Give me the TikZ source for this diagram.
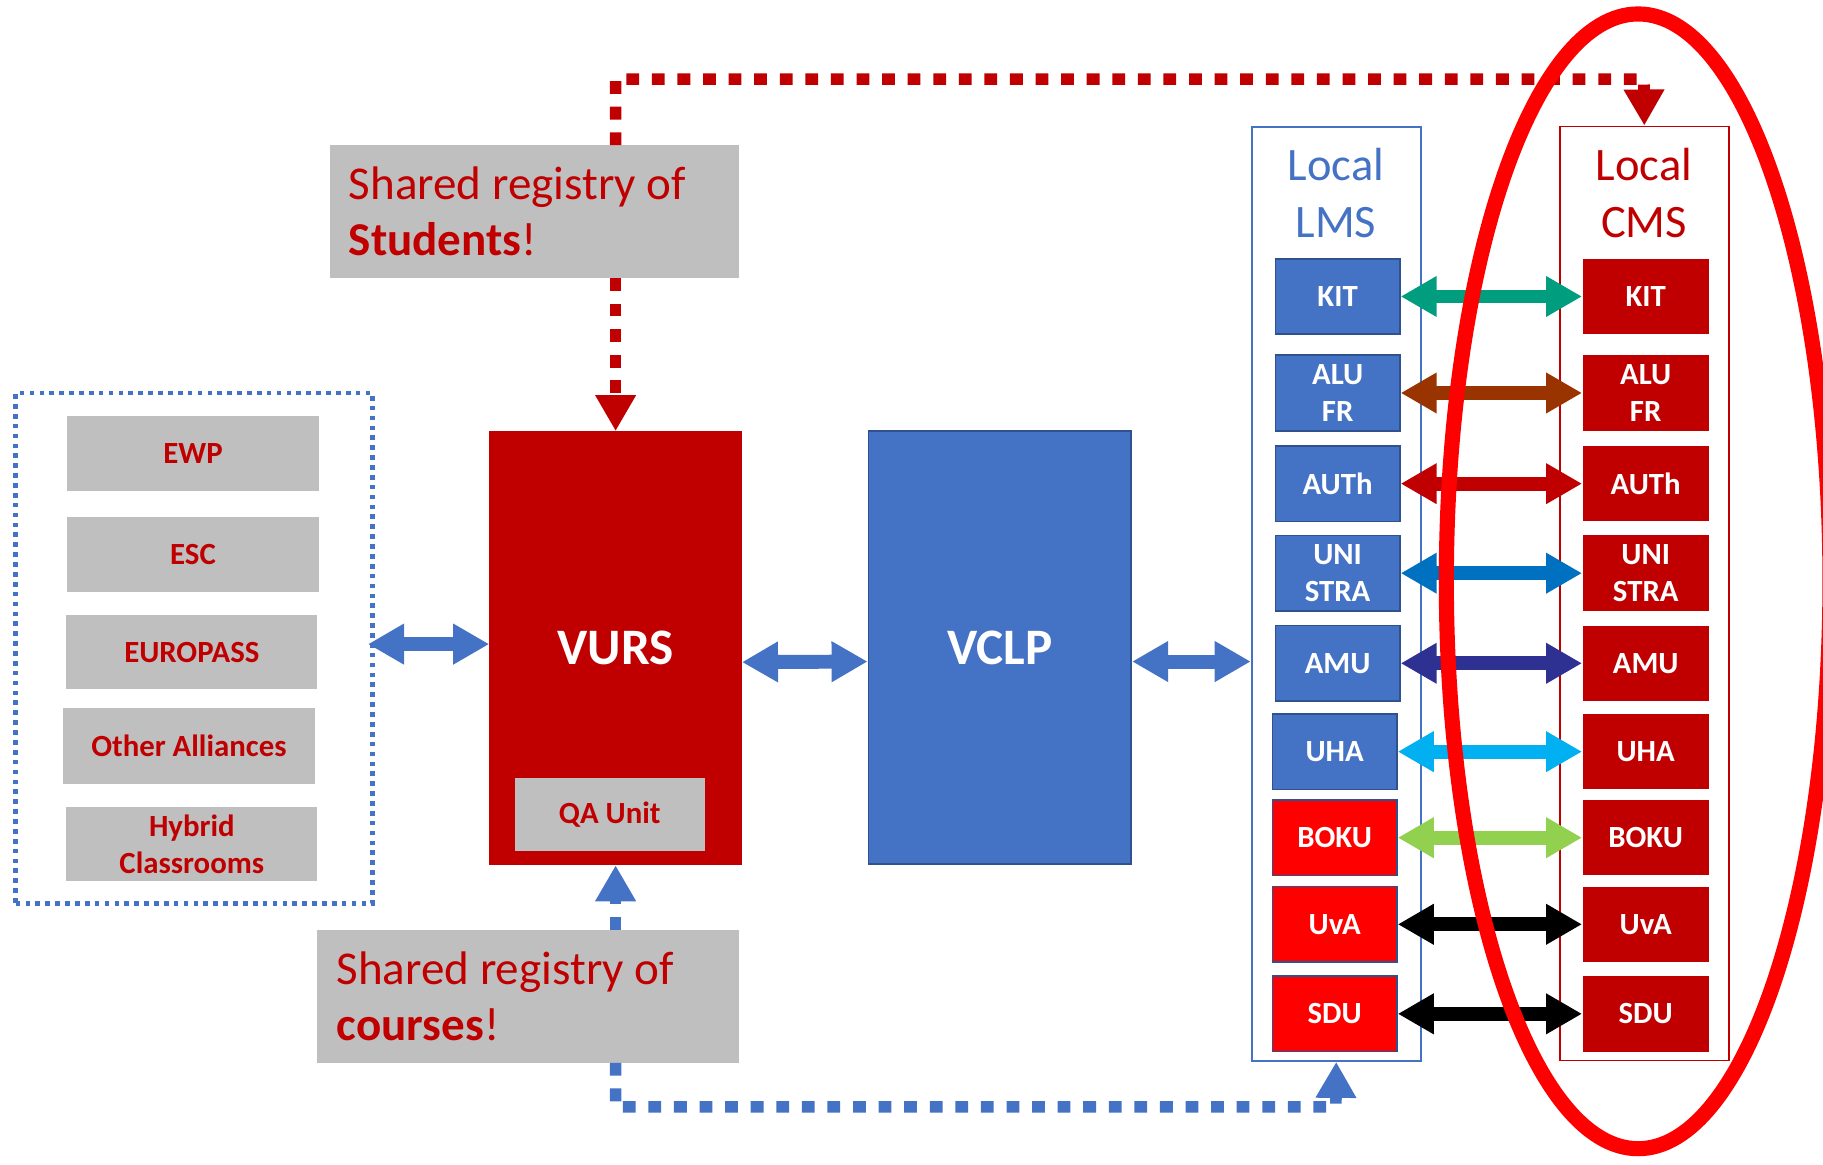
\documentclass[tikz,border=0pt]{standalone}
\usepackage{fontspec}
\setmainfont{Carlito}
\usetikzlibrary{arrows.meta}

\definecolor{darkred}{HTML}{C00000}
\definecolor{lightred}{HTML}{FF0000}
\definecolor{boxgray}{HTML}{BFBFBF}
\definecolor{midblue}{HTML}{4472C4}
\definecolor{edgeblue}{HTML}{2F528F}
\definecolor{kitcol}{HTML}{009E7E}
\definecolor{alucol}{HTML}{993300}
\definecolor{unicol}{HTML}{0070C0}
\definecolor{amucol}{HTML}{2E3192}
\definecolor{uhacol}{HTML}{00B0F0}
\definecolor{bokucol}{HTML}{92D050}

\tikzset{
	graybox/.style = {fill=boxgray, text=darkred, inner sep=0pt, align=center, font=\fontsize{26.5}{32}\selectfont\bfseries},
	regbox/.style = {fill=boxgray, text=darkred, inner ysep=0pt, align=flush left, font=\fontsize{40.5}{48.5}\selectfont},
	bigbox/.style = {inner sep=0pt, text=white, font=\fontsize{44}{50}\selectfont\bfseries},
	lmsitem/.style = {draw=edgeblue, line width=1.5pt, fill=midblue, text=white, inner sep=0pt, align=center,
		minimum width=107pt, minimum height=65pt, font=\fontsize{26.5}{32}\selectfont\bfseries},
	cmsitem/.style = {lmsitem, draw=none, fill=darkred, minimum width=108pt},
	column/.style = {line width=1.5pt, inner sep=0pt, minimum width=145.5pt, minimum height=803.5pt},
	title/.style = {align=center, font=\fontsize{40}{48.5}\selectfont},
	linkarrow/.style = {line width=12pt, <->},
	reddots/.style = {draw=darkred, line width=10pt, dash pattern=on 11pt off 11pt, ->},
	bluedots/.style = {draw=midblue, line width=10pt, dash pattern=on 11pt off 11pt, ->}
}

\begin{document}
\begin{tikzpicture}[x=1pt, y=-1pt, >={Triangle[length=31pt,width=33pt]}]
	\useasboundingbox (0,0) rectangle (1568,1002);

	% outside services
	\node[draw=midblue, line width=4pt, dash pattern=on 4pt off 4.5pt, inner sep=0pt,
		minimum width=307pt, minimum height=439pt] at (167, 557.5) (group) {};
	\node[graybox, minimum width=216pt, minimum height=64pt] at (166, 390) (ewp) {EWP};
	\node[graybox, minimum width=216pt, minimum height=64pt] at (166, 477) (esc) {ESC};
	\node[graybox, minimum width=216pt, minimum height=64pt] at (165, 561) (europass) {EUROPASS};
	\node[graybox, minimum width=217pt, minimum height=65pt] at (162.5, 641.5) (others) {Other Alliances};
	\node[graybox, minimum width=216pt, minimum height=64pt] at (165, 726) (hybrid) {Hybrid\\Classrooms};

	% registries
	\node[regbox, minimum height=114pt, inner xsep=16pt, text width=320pt] at (460, 182) (students)
		{Shared registry of\\\textbf{Students}!};
	\node[regbox, minimum height=114pt, inner xsep=16.5pt, text width=330pt] at (454.5, 857) (courses)
		{Shared registry of\\\textbf{courses}!};

	% platforms
	\node[bigbox, fill=darkred, minimum width=217pt, minimum height=373pt] at (529.5, 557.5) (vurs) {VURS};
	\node[graybox, minimum width=163pt, minimum height=63pt] at (524.5, 700.5) (qa) {QA Unit};
	\node[bigbox, draw=edgeblue, line width=1.5pt, fill=midblue, minimum width=226pt, minimum height=372pt]
		at (860, 557) (vclp) {VCLP};

	% local systems
	\node[column, draw=midblue] at (1149.3, 510.8) (lms) {};
	\node[column, draw=darkred] at (1414.3, 510.5) (cms) {};
	\node[title, text=midblue] at (1149, 166) (lmstitle) {Local\\LMS};
	\node[title, text=darkred] at (1414, 166) (cmstitle) {Local\\CMS};

	\node[lmsitem] at (1150.5, 255) (lkit) {KIT};
	\node[lmsitem] at (1150.5, 338) (lalu) {ALU\\FR};
	\node[lmsitem] at (1150.5, 416) (lauth) {AUTh};
	\node[lmsitem] at (1150.5, 493) (luni) {UNI\\STRA};
	\node[lmsitem] at (1150.5, 570.5) (lamu) {AMU};
	\node[lmsitem] at (1148, 646.5) (luha) {UHA};
	\node[lmsitem, fill=lightred] at (1148, 720.5) (lboku) {BOKU};
	\node[lmsitem, fill=lightred] at (1148, 795) (luva) {UvA};
	\node[lmsitem, fill=lightred] at (1148, 872) (lsdu) {SDU};

	\node[cmsitem] at (1415.5, 255) (ckit) {KIT};
	\node[cmsitem] at (1415.5, 338) (calu) {ALU\\FR};
	\node[cmsitem] at (1415.5, 416) (cauth) {AUTh};
	\node[cmsitem] at (1415.5, 493) (cuni) {UNI\\STRA};
	\node[cmsitem] at (1415.5, 570.5) (camu) {AMU};
	\node[cmsitem] at (1415.5, 646.5) (cuha) {UHA};
	\node[cmsitem] at (1415.5, 720.5) (cboku) {BOKU};
	\node[cmsitem] at (1415.5, 795) (cuva) {UvA};
	\node[cmsitem] at (1415.5, 872) (csdu) {SDU};

	% links
	\coordinate (groupout) at ([shift={(-6pt,3.5pt)}]group.east);
	\draw[linkarrow, midblue] (groupout) -- (groupout -| vurs.west);
	\draw[linkarrow, midblue] ([yshift=-12pt]vurs.east) -- ([yshift=-12pt]vclp.west);
	\coordinate (vclpout) at ([yshift=-12pt]vclp.east);
	\draw[linkarrow, midblue] (vclpout) -- (vclpout -| lms.west);

	\draw[linkarrow, kitcol] (lkit) -- (ckit);
	\draw[linkarrow, alucol] (lalu) -- (calu);
	\draw[linkarrow, darkred] (lauth) -- (cauth);
	\draw[linkarrow, unicol] (luni) -- (cuni);
	\draw[linkarrow, amucol] (lamu) -- (camu);
	\draw[linkarrow, uhacol] (luha) -- (cuha);
	\draw[linkarrow, bokucol] (lboku) -- (cboku);
	\draw[linkarrow, black] (luva) -- (cuva);
	\draw[linkarrow, black] (lsdu) -- (csdu);

	% registry feeds
	\coordinate (redturn) at (1414, 68);
	\coordinate (blueturn) at (1149, 952);
	\draw[reddots] (vurs.north |- students.north) |- (redturn) -- (cms.north);
	\draw[reddots] (vurs.north |- students.south) -- (vurs.north);
	\draw[bluedots] (vurs.south |- courses.north) -- (vurs.south);
	\draw[bluedots] (vurs.south |- courses.south) |- (blueturn) -- (lms.south);

	% highlight
	\draw[lightred, line width=13pt] (1409, 500) ellipse [x radius=165pt, y radius=488pt];
\end{tikzpicture}
\end{document}
